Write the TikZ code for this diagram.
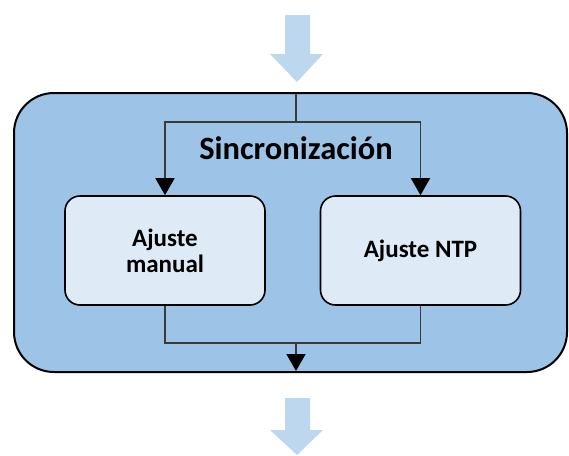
\documentclass[tikz,border=0pt]{standalone}
\usepackage{fontspec}
\setmainfont{Carlito}
\usetikzlibrary{arrows.meta}
\definecolor{outerblue}{HTML}{9DC3E6}
\definecolor{innerblue}{HTML}{DEEBF7}
\definecolor{flowblue}{HTML}{BDD7EE}
\definecolor{linegray}{HTML}{3A3A3A}
\begin{document}
\begin{tikzpicture}[
    x=1pt, y=-1pt,
    stage/.style={draw=black,line width=2pt,fill=outerblue,rounded corners=40pt},
    task/.style={draw=black,line width=1.6pt,fill=innerblue,rounded corners=15pt,
        minimum width=200pt,minimum height=109pt,align=center,font=\bfseries\fontsize{25}{26}\selectfont},
    link/.style={draw=linegray,line width=1.5pt},
    tip/.style={-{Triangle[length=17pt,width=19pt,color=black]}},
    bigarrow/.style={fill=flowblue,draw=none}
]
\useasboundingbox (0,0) rectangle (569,455);
% flow in and out
\fill[bigarrow] (285,15) -- (310,15) -- (310,54) -- (323,54) -- (297,82) -- (270,54) -- (285,54) -- cycle;
\fill[bigarrow] (285,398) -- (310,398) -- (310,430) -- (323,430) -- (297,455) -- (270,430) -- (285,430) -- cycle;
% stage
\draw[stage] (14,93) rectangle (567,372);
\node[font=\bfseries\fontsize{32.5}{38}\selectfont] (sync) at (296,148) {Sincronización};
\node[task] (manual) at (165,250.5) {Ajuste\\manual};
\node[task] (ntp) at (420.5,250.5) {Ajuste NTP};
\coordinate (in) at (296,94);
\coordinate (out) at (296,371);
\coordinate (split) at (296,122);
\coordinate (join) at (296,343);
% connectors
\draw[link] (in) -- (split);
\draw[link,tip] (split) -| (manual.north);
\draw[link,tip] (split) -| (ntp.north);
\draw[link] (manual.south) |- (join);
\draw[link] (ntp.south) |- (join);
\draw[link,tip] (join) -- (out);
\end{tikzpicture}
\end{document}
